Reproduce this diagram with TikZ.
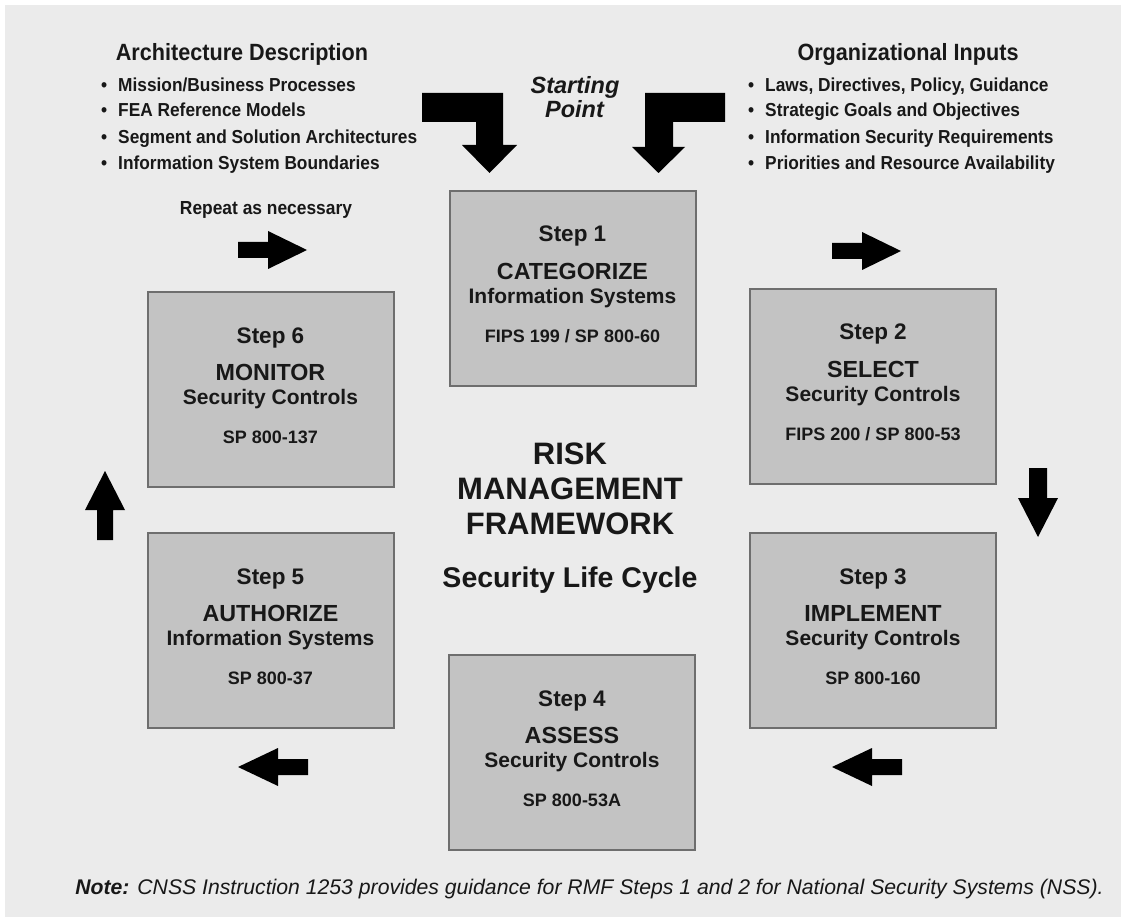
\documentclass[tikz,border=0pt]{standalone}
\usepackage{fontspec}
\setmainfont{Liberation Sans}
\newfontfamily\narrowsf{Liberation Sans}[FakeStretch=0.92]
\usetikzlibrary{calc}
\definecolor{bg}{HTML}{EBEBEB}
\definecolor{boxfill}{HTML}{C3C3C3}
\definecolor{boxline}{HTML}{6E6E6E}
\definecolor{ink}{HTML}{181818}
\tikzset{
  stepbox/.style={draw=boxline, fill=boxfill, line width=2pt, minimum width=246pt, minimum height=195pt, inner sep=0pt},
  basetxt/.style={inner sep=0pt, anchor=base, text=ink},
  stepno/.style={basetxt, font=\fontsize{22.5}{27}\selectfont\bfseries},
  steptitle/.style={basetxt, font=\fontsize{23.3}{28}\selectfont\bfseries},
  stepsub/.style={basetxt, font=\fontsize{21}{25}\selectfont\bfseries},
  stepref/.style={basetxt, font=\fontsize{18}{22}\selectfont\bfseries},
  heading/.style={basetxt, font=\narrowsf\fontsize{23.5}{28}\selectfont\bfseries},
  bullet/.style={inner sep=0pt, anchor=base west, text=ink, font=\narrowsf\fontsize{18.8}{22}\selectfont\bfseries},
  centertxt/.style={basetxt, font=\fontsize{31}{35}\selectfont\bfseries},
  arrowfill/.style={fill=black}
}
\newcommand\steptexts[5]{%
  \node[stepno] (#1a) at ($(#1.north)+(0,52)$) {#2};
  \node[steptitle] (#1b) at ($(#1.north)+(0,89.5)$) {#3};
  \node[stepsub] (#1c) at ($(#1.north)+(0,113.5)$) {#4};
  \node[stepref] (#1d) at ($(#1.north)+(0,152.5)$) {#5};
}
\begin{document}
\begin{tikzpicture}[x=1pt,y=-1pt]
\useasboundingbox (0,0) rectangle (1121,917);
\fill[white] (0,0) rectangle (1121,917);
\fill[bg] (5,5) rectangle (1121,917);

% headings and bullets
\node[heading] (archhead) at (242,60.5) {Architecture Description};
\node[bullet] (a1) at (101,92) {\textbullet\hspace{11pt}Mission/Business Processes};
\node[bullet] (a2) at (101,117) {\textbullet\hspace{11pt}FEA Reference Models};
\node[bullet] (a3) at (101,144) {\textbullet\hspace{11pt}Segment and Solution Architectures};
\node[bullet] (a4) at (101,170) {\textbullet\hspace{11pt}Information System Boundaries};

\node[heading] (orghead) at (908,60.5) {Organizational Inputs};
\node[bullet] (o1) at (748,92) {\textbullet\hspace{11pt}Laws, Directives, Policy, Guidance};
\node[bullet] (o2) at (748,117) {\textbullet\hspace{11pt}Strategic Goals and Objectives};
\node[bullet] (o3) at (748,144) {\textbullet\hspace{11pt}Information Security Requirements};
\node[bullet] (o4) at (748,170) {\textbullet\hspace{11pt}Priorities and Resource Availability};

\node[basetxt, font=\fontsize{23.5}{28}\selectfont\bfseries\itshape] (start1) at (575,93.3) {Starting};
\node[basetxt, font=\fontsize{23.5}{28}\selectfont\bfseries\itshape] (start2) at (574.5,118) {Point};

\node[basetxt, font=\narrowsf\fontsize{18.9}{22}\selectfont\bfseries] (repeat) at (266,215) {Repeat as necessary};

% bent starting arrows
\fill[arrowfill] (422,93) -- (503,93) -- (503,145) -- (517,145) -- (489.5,173) -- (462,145) -- (476,145) -- (476,122) -- (422,122) -- cycle;
\fill[arrowfill] (725,93) -- (645,93) -- (645,147) -- (632,147) -- (658.5,173) -- (685,147) -- (673,147) -- (673,122) -- (725,122) -- cycle;

% step boxes
\node[stepbox] (b1) at (572.5,288.5) {};
\node[stepbox] (b2) at (873,386) {};
\node[stepbox] (b3) at (873,630.5) {};
\node[stepbox] (b4) at (572,752.5) {};
\node[stepbox] (b5) at (270.5,630.5) {};
\node[stepbox] (b6) at (270.5,389.5) {};

\steptexts{b1}{Step 1}{CATEGORIZE}{Information Systems}{FIPS 199 / SP 800-60}
\steptexts{b2}{Step 2}{SELECT}{Security Controls}{FIPS 200 / SP 800-53}
\steptexts{b3}{Step 3}{IMPLEMENT}{Security Controls}{SP 800-160}
\steptexts{b4}{Step 4}{ASSESS}{Security Controls}{SP 800-53A}
\steptexts{b5}{Step 5}{AUTHORIZE}{Information Systems}{SP 800-37}
\steptexts{b6}{Step 6}{MONITOR}{Security Controls}{SP 800-137}

% cycle arrows
% right arrows
\fill[arrowfill] (238,242) -- (268,242) -- (268,231) -- (307,250) -- (268,269) -- (268,258) -- (238,258) -- cycle;
\fill[arrowfill] (832,243) -- (862,243) -- (862,232) -- (901,251) -- (862,270) -- (862,259) -- (832,259) -- cycle;
% down arrow
\fill[arrowfill] (1029,468) -- (1047,468) -- (1047,498) -- (1058,498) -- (1038,537) -- (1018,498) -- (1029,498) -- cycle;
% left arrows
\fill[arrowfill] (902,759) -- (872,759) -- (872,748) -- (832,767) -- (872,786) -- (872,775) -- (902,775) -- cycle;
\fill[arrowfill] (308,759) -- (278,759) -- (278,748) -- (238,767) -- (278,786) -- (278,775) -- (308,775) -- cycle;
% up arrow
\fill[arrowfill] (97,540) -- (113,540) -- (113,510) -- (125,510) -- (105,471) -- (85,510) -- (97,510) -- cycle;

% center text
\node[centertxt] (risk1) at (570,464) {RISK};
\node[centertxt] (risk2) at (570,499) {MANAGEMENT};
\node[centertxt] (risk3) at (570,534) {FRAMEWORK};
\node[basetxt, font=\fontsize{28.5}{33}\selectfont\bfseries] (slc) at (570,587) {Security Life Cycle};

% note
\node[basetxt, font=\fontsize{21.2}{25}\selectfont\itshape] (note) at (589.5,894.5) {\textbf{Note:} CNSS Instruction 1253 provides guidance for RMF Steps 1 and 2 for National Security Systems (NSS).};
\end{tikzpicture}
\end{document}
